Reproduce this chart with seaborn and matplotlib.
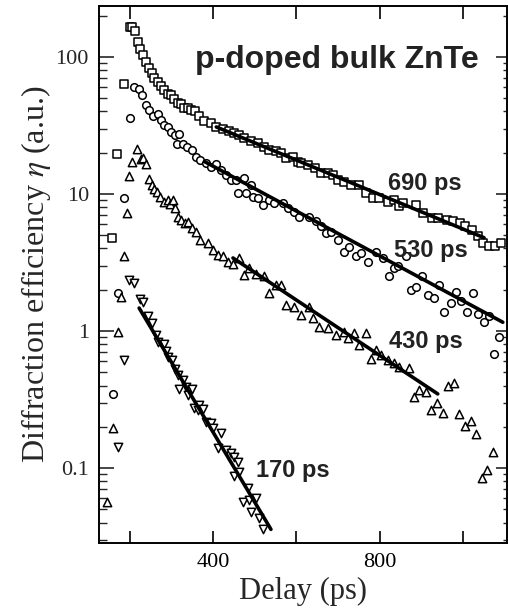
import numpy as np
import pandas as pd
import matplotlib
matplotlib.use("Agg")
import matplotlib.pyplot as plt
import seaborn as sns
from matplotlib.ticker import LogLocator, NullFormatter, FixedLocator, FixedFormatter

# ---- measured decay traces (delay in ps, diffraction efficiency in a.u.) ----
sq_t = [159, 171, 186, 200, 207, 213, 220, 226, 233, 239, 247, 253, 259, 267, 275, 283,
        291, 299, 307, 315, 323, 331, 339, 347, 357, 367, 379, 395, 407, 423, 439, 451,
        463, 475, 491, 507, 523, 535, 551, 563, 575, 591, 603, 611, 628, 644, 659, 675,
        687, 699, 715, 731, 751, 767, 783, 799, 819, 835, 847, 856, 888, 904, 924, 940,
        960, 976, 992, 1004, 1020, 1036, 1048, 1062, 1076, 1090]
sq_eta = [4.8, 19.6, 63.5, 166, 165, 155, 129, 114, 103, 91, 83, 76, 70, 66, 61, 57,
          54, 53, 49, 46, 45, 42, 42, 41, 40, 37, 34, 33, 31, 30, 29, 28,
          27, 25.5, 24.5, 23.5, 22, 21, 20.4, 19.8, 18.2, 18.7, 17.2, 16.7, 16.3, 15.4, 14.2, 14.2,
          13.8, 12.7, 12.3, 11.6, 11.6, 10.1, 9.3, 9.3, 8.8, 9.0, 8.1, 8.6, 8.3, 7.2, 6.7, 6.7,
          6.5, 6.3, 6.1, 5.8, 5.5, 4.9, 4.36, 4.17, 4.17, 4.36]

ci_t = [160, 173, 187, 200, 211, 223, 231, 239, 247, 255, 267, 275, 283, 291, 299, 309,
        319, 314, 328, 338, 350, 360, 370, 383, 395, 407, 419, 431, 443, 455, 459, 475,
        479, 491, 495, 507, 519, 535, 547, 567, 579, 595, 607, 631, 647, 659, 671, 683,
        699, 715, 727, 743, 755, 771, 791, 807, 823, 835, 844, 862, 876, 888, 901, 916,
        930, 941, 955, 970, 982, 995, 1009, 1023, 1035, 1049, 1063, 1075, 1087]
ci_eta = [0.345, 1.9, 9.4, 36, 60.6, 58, 53, 44.7, 41, 37, 38, 34.7, 31.9, 31, 28.5, 27,
          27.4, 23.2, 23.2, 22.1, 20.9, 18.7, 17.7, 16.7, 15.8, 16.6, 15, 13.8, 12.7, 12.7, 10.1, 13,
          10.1, 11.6, 9.55, 9.3, 8.3, 9.0, 8.55, 8.6, 7.9, 7.4, 6.8, 6.8, 6.3, 5.8, 5.2, 5.3,
          4.6, 3.8, 4.1, 3.5, 3.7, 3.2, 3.8, 3.4, 2.5, 2.9, 3.0, 3.5, 2.0, 2.1, 2.5, 1.83,
          1.73, 2.17, 1.38, 1.59, 1.94, 1.66, 1.38, 1.88, 1.33, 1.16, 1.29, 0.68, 0.91]

up_t = [146, 160, 173, 180, 186, 194, 199, 206, 218, 227, 233, 239, 247, 254, 259, 266,
        274, 282, 291, 298, 303, 309, 317, 323, 333, 341, 349, 359, 370, 387, 399, 411,
        423, 435, 447, 463, 475, 487, 503, 523, 535, 551, 563, 575, 595, 611, 631, 639,
        655, 675, 695, 715, 723, 739, 750, 766, 778, 791, 803, 819, 835, 847, 871, 883,
        895, 911, 923, 937, 951, 963, 977, 991, 1005, 1018, 1031, 1045, 1058, 1071]
up_eta = [0.057, 0.195, 0.99, 1.76, 3.5, 7.2, 13.6, 17, 21.2, 17.9, 18.2, 16.6, 12.8, 11.6, 10.8, 10.4,
          9.55, 8.8, 9.0, 8.5, 9.0, 7.9, 6.8, 6.5, 6.1, 6.2, 5.6, 5.3, 4.6, 4.37, 3.9, 3.6,
          3.5, 3.2, 3.1, 3.4, 2.56, 2.9, 2.6, 2.53, 1.88, 2.17, 2.17, 1.55, 1.5, 1.31, 1.5, 1.24,
          1.07, 1.05, 0.935, 0.99, 0.885, 0.96, 0.79, 0.97, 0.62, 0.73, 0.67, 0.61, 0.58, 0.55, 0.54, 0.33,
          0.37, 0.36, 0.265, 0.30, 0.253, 0.40, 0.42, 0.246, 0.204, 0.221, 0.177, 0.084, 0.097, 0.132]

dn_t = [173, 186, 199, 211, 226, 233, 245, 254, 264, 267, 282, 287, 293, 301, 309, 315,
        319, 328, 335, 339, 349, 355, 363, 367, 377, 383, 395, 399, 411, 419, 431, 443,
        451, 451, 459, 463, 471, 483, 487, 491, 503, 511, 519]
dn_eta = [0.143, 0.61, 2.36, 2.25, 1.71, 1.64, 1.29, 1.14, 0.935, 0.836, 0.81, 0.71, 0.65, 0.61, 0.53, 0.48,
          0.38, 0.44, 0.39, 0.34, 0.38, 0.273, 0.265, 0.29, 0.27, 0.218, 0.212, 0.195, 0.139, 0.179, 0.135, 0.128,
          0.121, 0.0875, 0.111, 0.094, 0.057, 0.071, 0.058, 0.048, 0.060, 0.043, 0.036]

# ---- single-exponential fits: eta = A * exp(-2 (t - t0) / tau) ----
fit_tau = [690, 530, 430, 170]
fit_t0 = [408, 380, 448, 223]
fit_t1 = [1050, 1095, 939, 539]
fit_amp = [30.8, 17.2, 3.41, 1.47]
fit_labels = ["690 ps", "530 ps", "430 ps", "170 ps"]
label_t = [908, 922, 910, 591]
label_eta = [10.7, 3.47, 0.751, 0.0859]

title_text = "p-doped bulk ZnTe"

# ---- assemble tables ----
series = [("sq", sq_t, sq_eta, "s", 26),
          ("ci", ci_t, ci_eta, "o", 30),
          ("up", up_t, up_eta, "^", 36),
          ("dn", dn_t, dn_eta, "v", 36)]

fit_rows = []
for i, (tau, t0, t1, a) in enumerate(zip(fit_tau, fit_t0, fit_t1, fit_amp)):
    tt = np.linspace(t0, t1, 50)
    for t in tt:
        fit_rows.append({"fit": i, "t": t, "eta": a * np.exp(-2.0 * (t - t0) / tau)})
fit_df = pd.DataFrame(fit_rows)

sns.set_style("ticks")
plt.rcParams["font.family"] = ["Liberation Serif", "DejaVu Serif"]
plt.rcParams["mathtext.fontset"] = "stix"

fig = plt.figure(figsize=(5.08, 6.11), dpi=100)
ax = fig.add_axes([0.1943, 0.1113, 0.998 - 0.1943, 0.9902 - 0.1113])

for name, t, eta, mk, s in series:
    d = pd.DataFrame({"t": t, "eta": eta})
    sns.scatterplot(data=d, x="t", y="eta", ax=ax, marker=mk, s=s,
                    facecolor="white", edgecolor="black", linewidth=1.1, zorder=3)

sns.lineplot(data=fit_df, x="t", y="eta", units="fit", estimator=None, ax=ax,
             color="black", linewidth=2.6, zorder=4)

ax.set_yscale("log")
ax.set_xlim(126, 1105)
ax.set_ylim(0.0284, 235)

# x ticks: every 200 ps, labels at 400 and 800
ax.xaxis.set_major_locator(FixedLocator([200, 400, 600, 800, 1000]))
ax.xaxis.set_major_formatter(FixedFormatter(["", "400", "", "800", ""]))
ax.yaxis.set_major_locator(FixedLocator([0.1, 1, 10, 100]))
ax.yaxis.set_major_formatter(FixedFormatter(["0.1", "1", "10", "100"]))
ax.yaxis.set_minor_locator(LogLocator(base=10, subs=np.arange(2, 10)))
ax.yaxis.set_minor_formatter(NullFormatter())

ax.tick_params(axis="x", which="major", direction="in", length=9, width=1.2,
               top=True, bottom=True, labelsize=16, pad=7, colors="black")
ax.tick_params(axis="y", which="major", direction="in", length=11, width=1.2,
               left=True, right=False, labelsize=16, pad=7)
ax.tick_params(axis="y", which="minor", direction="in", length=6, width=1.0,
               left=True, right=False)

# right axis carries shorter ticks only
ax2 = ax.twinx()
ax2.set_yscale("log")
ax2.set_ylim(ax.get_ylim())
ax2.yaxis.set_major_locator(FixedLocator([0.1, 1, 10, 100]))
ax2.yaxis.set_minor_locator(LogLocator(base=10, subs=np.arange(2, 10)))
ax2.yaxis.set_major_formatter(NullFormatter())
ax2.yaxis.set_minor_formatter(NullFormatter())
ax2.tick_params(axis="y", which="major", direction="in", length=8, width=1.2)
ax2.tick_params(axis="y", which="minor", direction="in", length=3, width=1.0)

for a_ in (ax, ax2):
    for sp in a_.spines.values():
        sp.set_linewidth(1.2)
        sp.set_color("black")

ax.set_xlabel("Delay (ps)", fontsize=22, labelpad=4)
ax.set_ylabel(r"Diffraction efficiency $\eta$ (a.u.)", fontsize=23, labelpad=2)

for lab, x, y in zip(fit_labels, label_t, label_eta):
    ax.text(x, y, lab, ha="center", va="baseline", fontsize=17, fontweight="bold",
            family=["Liberation Sans", "DejaVu Sans"], color="#222222", zorder=5)
ax.text(696, 83, title_text, ha="center", va="baseline", fontsize=23, fontweight="bold",
        family=["Liberation Sans", "DejaVu Sans"], color="#222222", zorder=5)

fig.savefig("out.png", dpi=100)
